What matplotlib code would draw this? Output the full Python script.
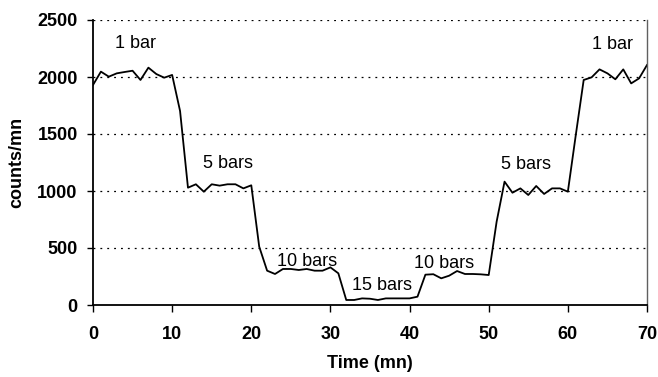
import matplotlib
matplotlib.use("Agg")
import matplotlib.pyplot as plt

time_mn = list(range(0, 71))
counts = [1930, 2047, 2003, 2032, 2044, 2055, 1974, 2082, 2026, 1994,
          2018, 1702, 1029, 1059, 994, 1059, 1047, 1059, 1059, 1023,
          1050, 512, 301, 272, 316, 316, 307, 316, 301, 301,
          330, 278, 44, 44, 58, 55, 44, 58, 58, 58,
          58, 73, 266, 270, 234, 257, 298, 272, 272, 269,
          263, 731, 1082, 985, 1023, 965, 1044, 974, 1023, 1023,
          994, 1490, 1974, 1997, 2067, 2032, 1980, 2067, 1944, 1988,
          2105]

labels = ["1 bar", "5 bars", "10 bars", "15 bars", "10 bars", "5 bars", "1 bar"]
label_x = [5.4, 17.0, 27.0, 36.5, 44.3, 54.7, 65.7]
label_y = [2298, 1245, 380, 167, 366, 1236, 2289]

plt.rcParams['font.family'] = ['Liberation Sans', 'DejaVu Sans']

fig = plt.figure(figsize=(6.58, 3.77), dpi=100)
ax = fig.add_axes([93/658, 1-305/377, (647-93)/658, (305-20)/377])

ax.plot(time_mn, counts, color='black', lw=1.3)

for t, x, y in zip(labels, label_x, label_y):
    ax.text(x, y, t, ha='center', va='center', fontsize=13)

ax.set_xlim(0, 70)
ax.set_ylim(0, 2500)
ax.set_xticks(range(0, 71, 10))
ax.set_yticks(range(0, 2501, 500))
for yv in range(500, 2501, 500):
    ax.axhline(yv, color='black', lw=0.9, ls=(0, (1.5, 4)), zorder=0)

ax.spines['top'].set_visible(False)
ax.spines['right'].set_color('#606060')
ax.spines['right'].set_linewidth(1.0)
ax.spines['left'].set_linewidth(1.3)
ax.spines['bottom'].set_linewidth(1.3)

ax.tick_params(axis='y', direction='out', length=4, width=1.0, labelsize=13, pad=7)
ax.tick_params(axis='x', direction='out', length=5, width=1.0, labelsize=13, pad=10)
for lab in ax.get_xticklabels() + ax.get_yticklabels():
    lab.set_fontweight('bold')

ax.set_xlabel('Time (mn)', fontsize=13, fontweight='bold', labelpad=9)
ax.set_ylabel('counts/mn', fontsize=13, fontweight='bold', labelpad=9)

fig.savefig('out.png', dpi=100)
